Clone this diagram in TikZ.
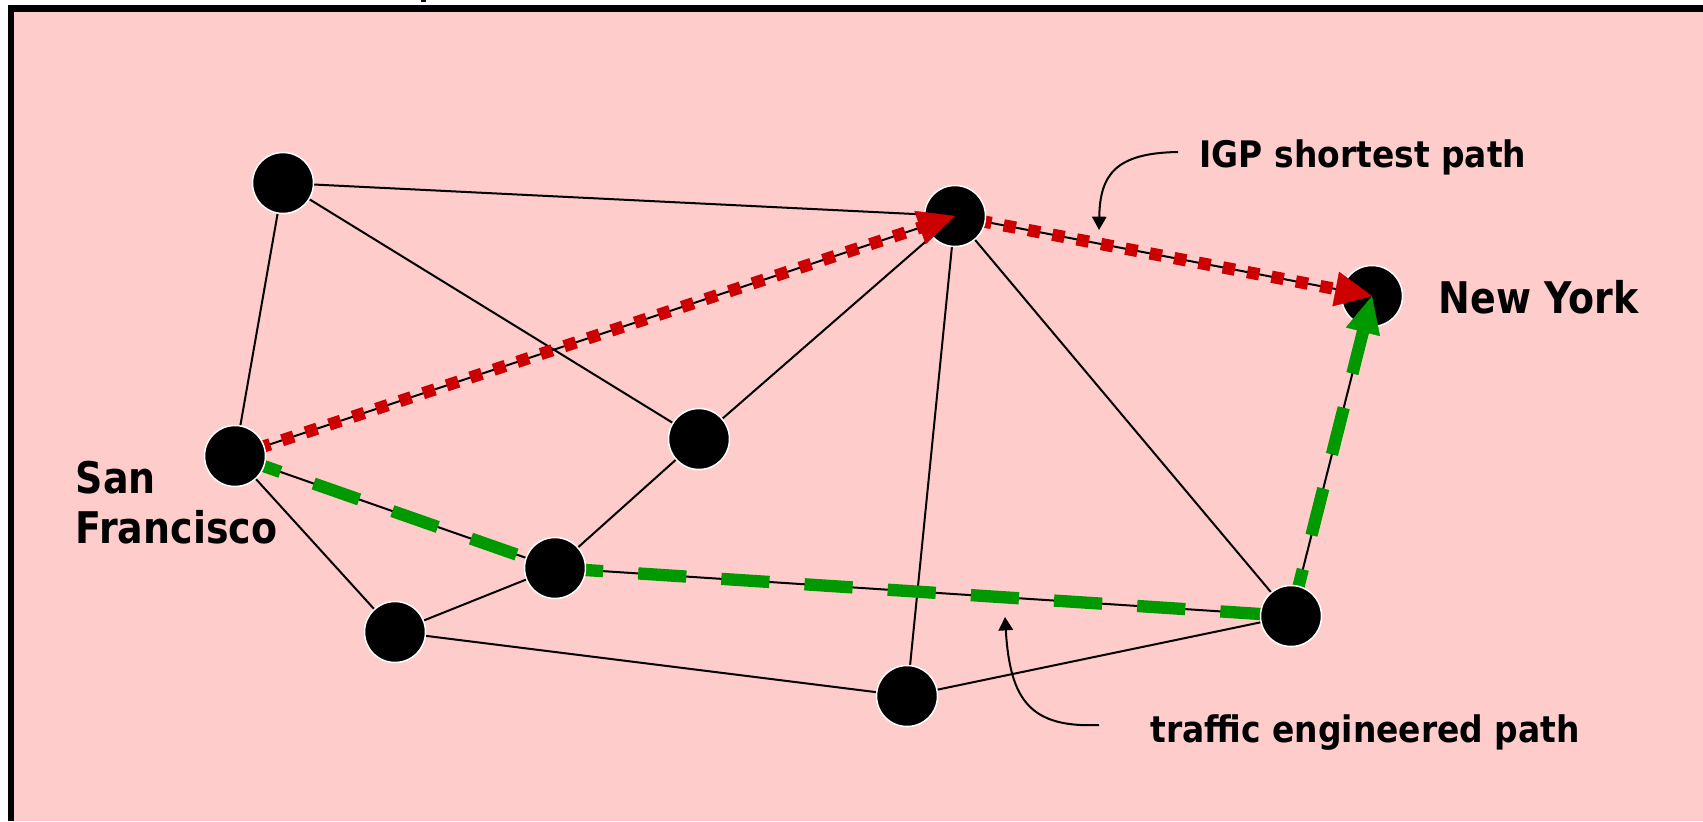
\documentclass[tikz,border=0pt]{standalone}
\usepackage{fontspec}
\newfontfamily\bigfont[FakeStretch=0.87]{DejaVu Sans}
\newfontfamily\smallfont[FakeStretch=0.9]{DejaVu Sans}
\usetikzlibrary{arrows.meta,calc}
\pgfdeclarelayer{back}
\pgfdeclarelayer{edges}
\pgfsetlayers{back,edges,main}
\definecolor{bgpink}{HTML}{FFCCCC}
\definecolor{pathred}{HTML}{CC0000}
\definecolor{pathgreen}{HTML}{009900}
\begin{document}
\begin{tikzpicture}[x=0.01cm,y=-0.01cm,
  router/.style={circle,fill=black,draw=white,line width=0.43pt,minimum size=17.35pt,inner sep=0pt},
  link/.style={line width=0.57pt,black},
  igp/.style={pathred,line width=3.5pt,dash pattern=on 3.5pt off 3.55pt},
  te/.style={pathgreen,line width=3.5pt,dash pattern=on 13.7pt off 10pt},
  redtip/.style={-{Triangle[length=10.5pt,width=10pt]},pathred,line width=0.1pt},
  greentip/.style={-{Triangle[length=10.5pt,width=10pt]},pathgreen,line width=0.1pt},
  callout/.style={line width=0.57pt,black,-{Triangle[length=3.8pt,width=4.1pt]}},
  biglbl/.style={font=\bigfont\bfseries\fontsize{12.4pt}{14pt}\selectfont,inner sep=0pt,anchor=base west},
  smalllbl/.style={font=\smallfont\bfseries\fontsize{10.4pt}{12.5pt}\selectfont,inner sep=0pt,anchor=base west}
]
\useasboundingbox (0,0) rectangle (1703,821);
\begin{pgfonlayer}{back}
  \fill[white] (0,0) rectangle (1703,821);
  \fill[bgpink] (11,8.5) rectangle (1703,821);
\end{pgfonlayer}
\draw[line width=1.85pt] (11,821) -- (11,8.5) -- (1703,8.5);
\fill[black] (421,0) rectangle (426,2.5);

% routers
\node[router] (na) at (283,183) {};
\node[router] (nb) at (955,216) {};
\node[router] (nny) at (1372,296) {};
\node[router] (nsf) at (235,456) {};
\node[router] (nm) at (699,439) {};
\node[router] (nc) at (555,568) {};
\node[router] (nd) at (395,632) {};
\node[router] (ne) at (907,696) {};
\node[router] (nf) at (1291,616) {};

\begin{pgfonlayer}{edges}
  \draw[link] (na.center) -- (nb.center);
  \draw[link] (na.center) -- (nsf.center);
  \draw[link] (na.center) -- (nm.center);
  \draw[link] (nb.center) -- (nm.center);
  \draw[link] (nb.center) -- (ne.center);
  \draw[link] (nb.center) -- (nf.center);
  \draw[link] (nb.center) -- (nny.center);
  \draw[link] (nsf.center) -- (nb.center);
  \draw[link] (nsf.center) -- (nc.center);
  \draw[link] (nsf.center) -- (nd.center);
  \draw[link] (nm.center) -- (nc.center);
  \draw[link] (nd.center) -- (nc.center);
  \draw[link] (nd.center) -- (ne.center);
  \draw[link] (ne.center) -- (nf.center);
  \draw[link] (nc.center) -- (nf.center);
  \draw[link] (nf.center) -- (nny.center);
  % IGP shortest path
  \draw[igp] (nsf.center) -- (nb.center);
  \draw[igp] (nb.center) -- (nny.center);
  % traffic engineered path
  \draw[te] (nsf.center) -- (nc.center);
  \draw[te] (nc.center) -- (nf.center);
  \draw[te] (nf.center) -- (nny.center);
\end{pgfonlayer}

% arrow heads on top of routers
\draw[redtip] ($(nb.center)!10.5pt!(nsf.center)$) -- (nb.center);
\draw[redtip] ($(nny.center)!10.5pt!(nb.center)$) -- (nny.center);
\draw[greentip] ($(nny.center)!10.5pt!(nf.center)$) -- (nny.center);

% labels
\node[smalllbl] (igplbl) at (1199,167) {IGP shortest path};
\node[biglbl] (nylbl) at (1438,313) {New York};
\node[biglbl] (sanlbl) at (75,493) {San};
\node[biglbl] (franlbl) at (75,543) {Francisco};
\node[smalllbl] (telbl) at (1150,742) {traffic engineered path};

% callouts
\coordinate (igpfrom) at (1178,152);
\coordinate (igpto) at (1099,230);
\draw[callout] (igpfrom) .. controls (1115,153) and (1100,175) .. (igpto);
\coordinate (tefrom) at (1099,725);
\coordinate (teto) at (1005,617);
\draw[callout] (tefrom) .. controls (1030,728) and (1010,700) .. (teto);
\end{tikzpicture}
\end{document}
